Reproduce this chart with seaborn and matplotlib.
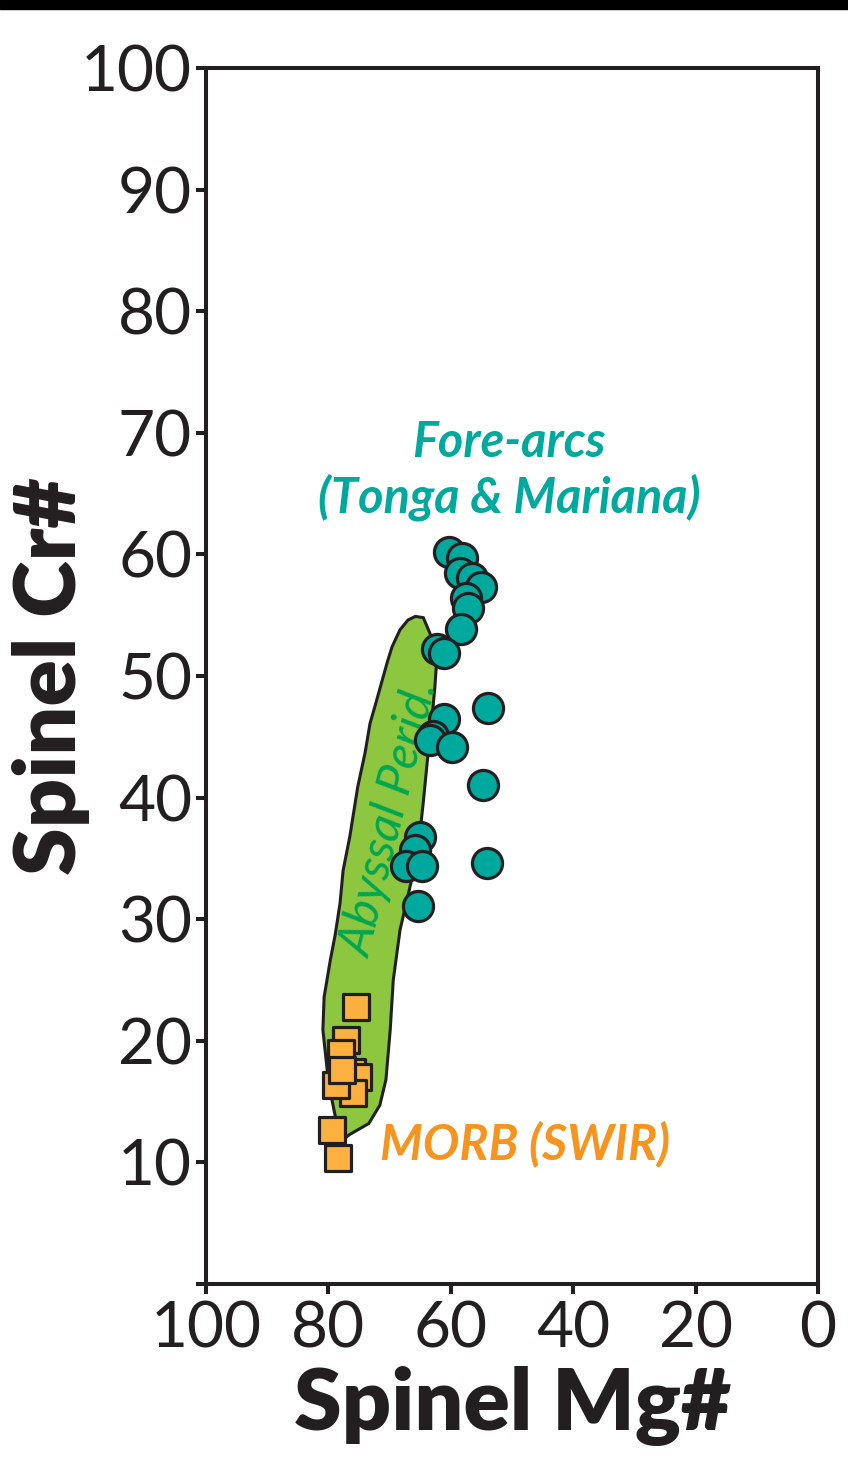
import matplotlib
matplotlib.use("Agg")
import matplotlib.pyplot as plt
import seaborn as sns
import pandas as pd
from matplotlib.patches import Rectangle

# ---- data ----
forearc_mg = [60.3, 58.2, 58.5, 56.5, 55.1, 57.5, 57.2, 58.3, 62.3, 61.1, 53.9, 61.1,
              62.9, 63.4, 59.8, 54.7, 65.0, 65.8, 67.3, 64.7, 54.1, 65.4]
forearc_cr = [60.2, 59.7, 58.5, 58.1, 57.3, 56.4, 55.6, 53.9, 52.2, 51.9, 47.4, 46.5,
              45.1, 44.7, 44.2, 41.0, 36.8, 35.7, 34.4, 34.4, 34.6, 31.1]

morb_mg = [75.5, 77.1, 77.9, 76.1, 75.2, 76.0, 78.8, 79.4, 78.4, 77.8]
morb_cr = [22.8, 20.1, 19.0, 17.4, 17.0, 15.7, 16.4, 12.7, 10.4, 17.6]

abyssal_mg = [65.8, 64.5, 63.4, 62.3, 62.6, 63.1, 63.7, 64.5, 65.4, 66.7, 68.3, 69.4,
              69.9, 70.6, 71.6, 73.4, 76.5, 77.3, 78.6, 79.4, 80.2, 80.9, 80.7, 79.7,
              78.9, 78.1, 77.6, 76.5, 75.2, 74.0, 73.2, 72.4, 70.4, 69.6, 68.3, 67.0]
abyssal_cr = [54.9, 54.8, 53.5, 51.3, 49.1, 46.4, 43.7, 39.6, 35.4, 32.6, 29.1, 25.0,
              20.9, 16.8, 14.7, 13.2, 12.3, 12.0, 13.1, 15.1, 17.6, 20.9, 23.6, 26.6,
              28.7, 31.3, 34.0, 36.8, 40.9, 43.7, 46.1, 47.5, 51.1, 52.4, 53.8, 54.6]

x_ticks = [100, 80, 60, 40, 20, 0]
y_ticks = [0, 10, 20, 30, 40, 50, 60, 70, 80, 90, 100]
y_ticklabels = ["", "10", "20", "30", "40", "50", "60", "70", "80", "90", "100"]

TEAL = "#00A99D"
ORANGE_FILL = "#FBB040"
ORANGE_TXT = "#F7941D"
GREEN_FILL = "#8DC63F"
GREEN_TXT = "#00A651"
DARK = "#231F20"

sns.set_theme(style="white")
plt.rcParams['font.family'] = ['Lato', 'DejaVu Sans']

fig = plt.figure(figsize=(8.48, 14.77), dpi=100)
ax = fig.add_axes([206/848, 1 - 1284/1477, (818-206)/848, (1284-68)/1477])

# top black band
fig.patches.append(Rectangle((0, 1 - 9/1477), 1, 9/1477, transform=fig.transFigure,
                             color="black", zorder=10))

ax.fill(abyssal_mg, abyssal_cr, facecolor=GREEN_FILL, edgecolor=DARK, linewidth=2.2, zorder=1)

df_f = pd.DataFrame({"mg": forearc_mg, "cr": forearc_cr})
df_m = pd.DataFrame({"mg": morb_mg, "cr": morb_cr})
sns.scatterplot(data=df_f, x="mg", y="cr", ax=ax, marker="o", s=470, color=TEAL,
                edgecolor=DARK, linewidth=2.3, zorder=3, legend=False)
sns.scatterplot(data=df_m, x="mg", y="cr", ax=ax, marker="s", s=330, color=ORANGE_FILL,
                edgecolor=DARK, linewidth=2.3, zorder=3, legend=False)

ax.set_xlim(100, 0)
ax.set_ylim(0, 100)
ax.set_xticks(x_ticks)
ax.set_xticklabels([str(v) for v in x_ticks])
ax.set_yticks(y_ticks)
ax.set_yticklabels(y_ticklabels)

for sp in ax.spines.values():
    sp.set_linewidth(2.9)
    sp.set_color(DARK)
ax.tick_params(axis="both", direction="out", length=7, width=2.9, color=DARK,
               labelsize=46, labelcolor=DARK)
ax.tick_params(axis="y", pad=3, left=True)
ax.tick_params(axis="x", pad=5, bottom=True)

ax.set_xlabel("Spinel Mg#", fontsize=62, fontweight="heavy", color=DARK)
ax.set_ylabel("Spinel Cr#", fontsize=62, fontweight="heavy", color=DARK)
ax.yaxis.set_label_coords(-(206 - 90) / 612, 0.5)
ax.xaxis.set_label_coords(0.5, -(1366 - 1284) / 1216)

ax.text(50.5, 69.2, "Fore-arcs", fontsize=35, fontstyle="italic", fontweight="bold",
        color=TEAL, ha="center", va="center")
ax.text(50.5, 64.7, "(Tonga & Mariana)", fontsize=35, fontstyle="italic", fontweight="bold",
        color=TEAL, ha="center", va="center")
ax.text(47.8, 11.5, "MORB (SWIR)", fontsize=35, fontstyle="italic", fontweight="bold",
        color=ORANGE_TXT, ha="center", va="center")
ax.text(69.9, 38.2, "Abyssal Perid.", fontsize=35, fontstyle="italic", zorder=2,
        color=GREEN_TXT, ha="center", va="center", rotation=76, rotation_mode="anchor")

fig.savefig("out.png", dpi=100)
